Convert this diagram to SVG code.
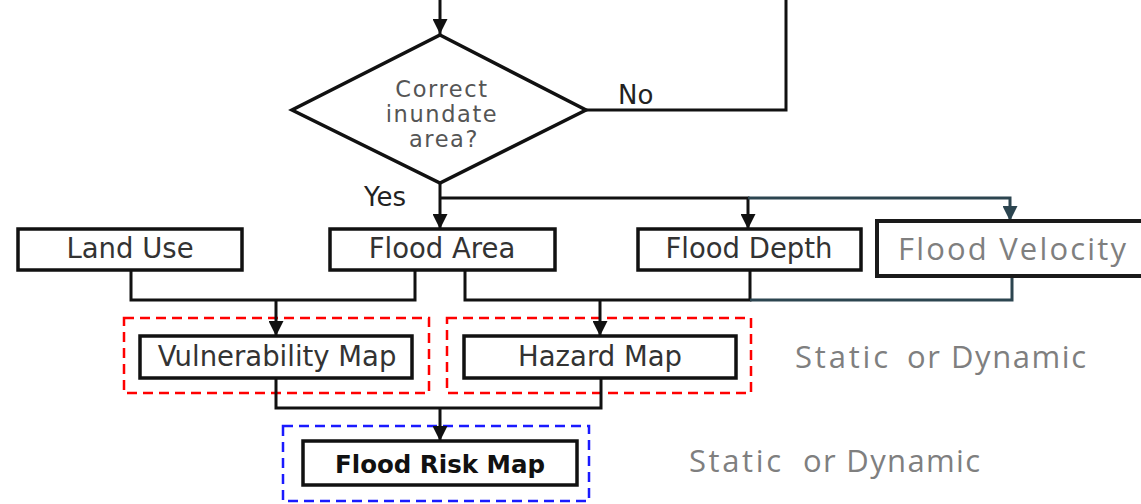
<svg xmlns="http://www.w3.org/2000/svg" width="1141" height="504" viewBox="0 0 1141 504">
<style>
.box{fill:#fff;stroke:#111;stroke-width:3.5}
.t{font-family:"DejaVu Sans",sans-serif;font-size:27.5px;fill:#333;text-anchor:middle}
.dt{font-family:"DejaVu Sans",sans-serif;font-size:22.5px;letter-spacing:1.6px;fill:#555;text-anchor:middle}
.lbl{font-family:"DejaVu Sans",sans-serif;font-size:26px;fill:#222}
.ln{fill:none;stroke:#111;stroke-width:3}
.sl{fill:none;stroke:#2c4550;stroke-width:3}
.slide{font-family:"Open Sans","Liberation Sans",sans-serif;font-weight:400;font-size:31px;fill:#7f7f7f}
.red{fill:none;stroke:#f00;stroke-width:2.5;stroke-dasharray:10 6}
.blue{fill:none;stroke:#1a1aff;stroke-width:2.5;stroke-dasharray:10 6}
</style>
<defs>
<marker id="ah" viewBox="0 0 10 10" refX="10" refY="5" markerWidth="5" markerHeight="5" markerUnits="strokeWidth" orient="auto"><path d="M0,0 L10,5 L0,10 Z" fill="#111"/></marker>
<marker id="as" viewBox="0 0 10 10" refX="10" refY="5" markerWidth="5" markerHeight="5" markerUnits="strokeWidth" orient="auto"><path d="M0,0 L10,5 L0,10 Z" fill="#2c4550"/></marker>
</defs>
<rect width="1141" height="504" fill="#fff"/>
<g id="groups">
<rect class="red" x="124" y="318" width="305" height="75"/>
<rect class="red" x="447" y="318" width="304" height="75"/>
<rect class="blue" x="283" y="426" width="306" height="75"/>
</g>
<g id="connectors">
<path class="ln" d="M440,0 V34" marker-end="url(#ah)"/>
<path class="ln" d="M586,110 H786 V0"/>
<path class="ln" d="M440,183 V229" marker-end="url(#ah)"/>
<path class="ln" d="M440,198 H748 V229" marker-end="url(#ah)"/>
<path class="sl" d="M748,198 H1010 V221" marker-end="url(#as)"/>
<path class="ln" d="M131,270 V300 H415 V270"/>
<path class="ln" d="M276,300 V336" marker-end="url(#ah)"/>
<path class="ln" d="M465,270 V300 H750 V270"/>
<path class="sl" d="M750,300 H1012 V277"/>
<path class="ln" d="M600,300 V336" marker-end="url(#ah)"/>
<path class="ln" d="M276,378 V408 H601 V378"/>
<path class="ln" d="M440,408 V441" marker-end="url(#ah)"/>
<text class="lbl" x="618" y="104">No</text>
<text class="lbl" x="364" y="206" font-size="27">Yes</text>
</g>
<g id="decision">
<polygon class="box" points="440,35 586,110 440,183 292,110"/>
<text class="dt" x="442" y="97">Correct</text>
<text class="dt" x="442" y="122">inundate</text>
<text class="dt" x="444" y="147">area?</text>
</g>
<g id="land-use">
<rect class="box" x="18" y="229" width="224" height="41"/>
<text class="t" x="130" y="258">Land Use</text>
</g>
<g id="flood-area">
<rect class="box" x="330" y="229" width="225" height="41"/>
<text class="t" x="442" y="258">Flood Area</text>
</g>
<g id="flood-depth">
<rect class="box" x="638" y="229" width="223" height="41"/>
<text class="t" x="749" y="258">Flood Depth</text>
</g>
<g id="flood-velocity">
<rect x="877" y="221" width="268" height="55" fill="#fff" stroke="#1a1a1a" stroke-width="4"/>
<text class="slide" x="898" y="260" textLength="228" lengthAdjust="spacing">Flood Velocity</text>
</g>
<g id="vulnerability-map">
<rect class="box" x="140" y="336" width="272" height="42"/>
<text class="t" x="277" y="366">Vulnerability Map</text>
</g>
<g id="hazard-map">
<rect class="box" x="464" y="336" width="272" height="42"/>
<text class="t" x="600" y="366">Hazard Map</text>
</g>
<g id="flood-risk-map">
<rect class="box" x="303" y="441" width="274" height="44"/>
<text x="440" y="473" font-family="DejaVu Sans,sans-serif" font-weight="bold" font-size="24.5" fill="#111" text-anchor="middle">Flood Risk Map</text>
</g>
<g id="notes">
<text class="slide" y="368"><tspan x="795" textLength="93" lengthAdjust="spacing">Static</tspan><tspan x="907" textLength="179" lengthAdjust="spacing">or Dynamic</tspan></text>
<text class="slide" y="472"><tspan x="689" textLength="92" lengthAdjust="spacing">Static</tspan><tspan x="803" textLength="177" lengthAdjust="spacing">or Dynamic</tspan></text>
</g>
</svg>
